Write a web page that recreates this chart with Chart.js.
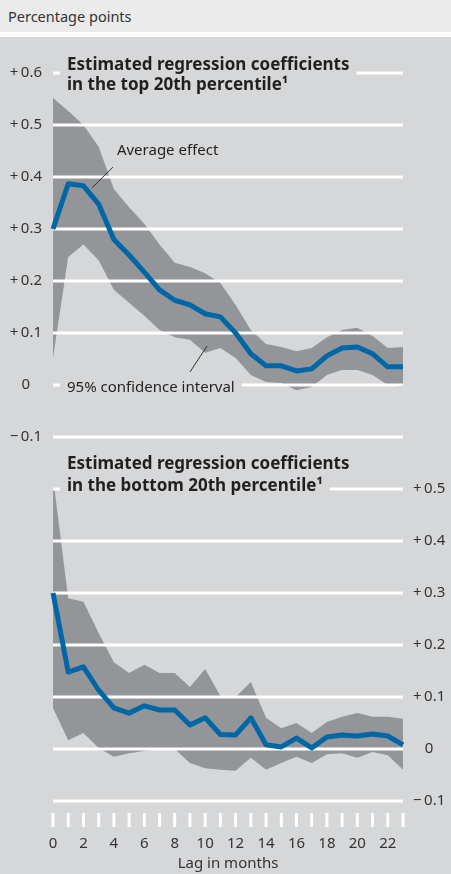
<!DOCTYPE html>
<html>
<head>
<meta charset="utf-8">
<script src="https://cdn.jsdelivr.net/npm/chart.js@4.4.1/dist/chart.umd.min.js"></script>
<style>
  body { margin: 0; width: 451px; height: 874px; overflow: hidden; background: #d6d7d9; font-family: "Noto Sans", sans-serif; position: relative; }
  #strip { position: absolute; left: 0; top: 0; width: 451px; height: 32px; background: #ebebec; color: #333; font-size: 14.5px; line-height: 32px; text-indent: 8px; }
  #gap { position: absolute; left: 0; top: 32px; width: 451px; height: 5px; background: #fff; }
  #topWrap { position: absolute; left: 0; top: 37px; }
  #botWrap { position: absolute; left: 0; top: 450px; }
</style>
</head>
<body>
<div id="strip">Percentage points</div>
<div id="gap"></div>
<div id="topWrap"><canvas id="chart-top" width="451" height="413"></canvas></div>
<div id="botWrap"><canvas id="chart-bottom" width="451" height="424"></canvas></div>
<script>
var lags = [0,1,2,3,4,5,6,7,8,9,10,11,12,13,14,15,16,17,18,19,20,21,22,23];

// top 20th percentile
var topAvg   = [0.30,0.387,0.383,0.348,0.28,0.25,0.217,0.183,0.163,0.154,0.137,0.131,0.10,0.06,0.037,0.037,0.027,0.031,0.056,0.071,0.073,0.06,0.035,0.035];
var topUpper = [0.552,0.527,0.50,0.458,0.377,0.342,0.31,0.27,0.235,0.227,0.215,0.196,0.154,0.106,0.079,0.073,0.065,0.071,0.092,0.106,0.11,0.094,0.071,0.073];
var topLower = [0.052,0.246,0.27,0.24,0.183,0.158,0.133,0.106,0.092,0.087,0.062,0.071,0.052,0.019,0.006,0.004,-0.01,-0.004,0.019,0.029,0.029,0.019,0.0,-0.004];

// bottom 20th percentile
var botAvg   = [0.30,0.148,0.158,0.113,0.079,0.069,0.083,0.075,0.075,0.046,0.06,0.028,0.027,0.06,0.008,0.004,0.021,0.002,0.023,0.027,0.025,0.029,0.025,0.008];
var botUpper = [0.523,0.29,0.283,0.223,0.167,0.146,0.162,0.146,0.146,0.119,0.154,0.102,0.10,0.129,0.06,0.04,0.05,0.031,0.052,0.062,0.069,0.062,0.062,0.058];
var botLower = [0.079,0.017,0.031,0.002,-0.015,-0.008,-0.004,0.0,0.0,-0.027,-0.037,-0.04,-0.042,-0.017,-0.04,-0.027,-0.015,-0.027,-0.01,-0.008,-0.017,-0.006,-0.012,-0.04];

var topTicks = [-0.1,0,0.1,0.2,0.3,0.4,0.5,0.6];
var botTicks = [-0.1,0,0.1,0.2,0.3,0.4,0.5];

var BLUE = '#0067a6';
var BAND = '#939598';
var PANEL = '#d6d7d9';
var TEXT = '#231f20';

function fmt(v) {
  v = Math.round(v * 10) / 10;
  if (v === 0) return '0';
  return (v > 0 ? '+\u2009' : '\u2212\u2009') + Math.abs(v).toFixed(1);
}

// texts placed in data units: [lag, value]
function labelText(ctx, chart, t) {
  var xs = chart.scales.x, ys = chart.scales.y;
  ctx.font = t.font;
  var x = xs.getPixelForValue(t.at[0]);
  var y = ys.getPixelForValue(t.at[1]);
  var w = ctx.measureText(t.text).width;
  if (t.mask) {
    ctx.fillStyle = PANEL;
    ctx.fillRect(x - 7, y - t.mask, w + 14, t.mask + 6);
  }
  ctx.fillStyle = TEXT;
  ctx.fillText(t.text, x, y);
}

var overlay = {
  id: 'overlay',
  beforeDatasetDraw: function (chart, args, opts) {
    if (args.index !== 0) return;
    var ctx = chart.ctx, a = chart.chartArea, ys = chart.scales.y, xs = chart.scales.x;
    ctx.save();
    // white grid above the band
    ctx.strokeStyle = '#fff';
    ctx.lineWidth = 3;
    opts.ticks.forEach(function (v) {
      var y = ys.getPixelForValue(v);
      ctx.beginPath();
      ctx.moveTo(a.left, y);
      ctx.lineTo(a.right, y);
      ctx.stroke();
    });
    ctx.textBaseline = 'alphabetic';
    ctx.textAlign = 'left';
    opts.texts.forEach(function (t) { labelText(ctx, chart, t); });
    // leader lines
    ctx.strokeStyle = '#333';
    ctx.lineWidth = 1;
    (opts.leaders || []).forEach(function (l) {
      ctx.beginPath();
      ctx.moveTo(xs.getPixelForValue(l[0]), ys.getPixelForValue(l[1]));
      ctx.lineTo(xs.getPixelForValue(l[2]), ys.getPixelForValue(l[3]));
      ctx.stroke();
    });
    // x tick marks (bottom panel)
    if (opts.xMarks) {
      ctx.strokeStyle = '#fff';
      ctx.lineWidth = 3;
      lags.forEach(function (l, i) {
        var x = xs.getPixelForValue(i);
        ctx.beginPath();
        ctx.moveTo(x, a.bottom + 12);
        ctx.lineTo(x, a.bottom + 26);
        ctx.stroke();
      });
    }
    ctx.restore();
  }
};

function datasets(avg, upper, lower) {
  return [
    { data: avg, borderColor: BLUE, borderWidth: 5, pointRadius: 0, fill: false, tension: 0, borderJoinStyle: 'round' },
    { data: upper, borderWidth: 0, pointRadius: 0, fill: '+1', backgroundColor: BAND, clip: false },
    { data: lower, borderWidth: 0, pointRadius: 0, fill: false, clip: false }
  ];
}

// fixed axis width, and no label overhang pushing the plot area around
function fitAxis(width) {
  return function (s) {
    s.width = width;
    s.paddingTop = 0;
    s.paddingBottom = 0;
  };
}

var TITLE_FONT = 'bold 17px "Noto Sans"';
var NOTE_FONT = '15px "Noto Sans"';

new Chart(document.getElementById('chart-top').getContext('2d'), {
  type: 'line',
  data: { labels: lags, datasets: datasets(topAvg, topUpper, topLower) },
  plugins: [overlay],
  options: {
    responsive: false,
    devicePixelRatio: 1,
    animation: false,
    events: [],
    layout: { autoPadding: false, padding: { top: 36, bottom: 13, left: 0, right: 48 } },
    plugins: {
      legend: { display: false },
      tooltip: { enabled: false },
      overlay: {
        ticks: topTicks,
        texts: [
          { text: 'Estimated regression coefficients', at: [0.92, 0.606], font: TITLE_FONT, mask: 16 },
          { text: 'in the top 20th percentile\u00b9', at: [0.92, 0.567], font: TITLE_FONT, mask: 0 },
          { text: 'Average effect', at: [4.2, 0.442], font: NOTE_FONT },
          { text: '95% confidence interval', at: [0.92, -0.013], font: NOTE_FONT, mask: 14 }
        ],
        leaders: [[3.94, 0.419, 2.56, 0.379], [10.12, 0.075, 9.0, 0.025]]
      }
    },
    scales: {
      x: { type: 'category', offset: false, display: false },
      y: {
        position: 'left',
        min: -0.1, max: 0.6,
        afterFit: fitAxis(53),
        afterBuildTicks: function (s) { s.ticks = topTicks.map(function (v) { return { value: v }; }); },
        grid: { display: false, drawTicks: false },
        border: { display: false },
        ticks: { callback: fmt, crossAlign: 'center', padding: 11, color: '#333', font: { family: 'Noto Sans', size: 15 } }
      }
    }
  }
});

new Chart(document.getElementById('chart-bottom').getContext('2d'), {
  type: 'line',
  data: { labels: lags, datasets: datasets(botAvg, botUpper, botLower) },
  plugins: [overlay],
  options: {
    responsive: false,
    devicePixelRatio: 1,
    animation: false,
    events: [],
    layout: { autoPadding: false, padding: { top: 39, bottom: 0, left: 53, right: 0 } },
    plugins: {
      legend: { display: false },
      tooltip: { enabled: false },
      overlay: {
        ticks: botTicks,
        xMarks: true,
        texts: [
          { text: 'Estimated regression coefficients', at: [0.92, 0.538], font: TITLE_FONT },
          { text: 'in the bottom 20th percentile\u00b9', at: [0.92, 0.496], font: TITLE_FONT, mask: 16 }
        ]
      }
    },
    scales: {
      x: {
        type: 'category', offset: false,
        afterFit: function (s) { s.height = 73; },
        grid: { display: false, drawTicks: false },
        border: { display: false },
        ticks: {
          autoSkip: false, maxRotation: 0, padding: 34, color: '#333',
          font: { family: 'Noto Sans', size: 15 },
          callback: function (v, i) { return i % 2 === 0 ? String(lags[i]) : ''; }
        },
        title: { display: true, text: 'Lag in months', color: '#333', font: { family: 'Noto Sans', size: 15 }, padding: { top: 0, bottom: 1 } }
      },
      y: {
        position: 'right',
        min: -0.1, max: 0.5,
        afterFit: fitAxis(48),
        afterBuildTicks: function (s) { s.ticks = botTicks.map(function (v) { return { value: v }; }); },
        grid: { display: false, drawTicks: false },
        border: { display: false },
        ticks: { callback: fmt, crossAlign: 'center', padding: 10, color: '#333', font: { family: 'Noto Sans', size: 15 } }
      }
    }
  }
});
</script>
</body>
</html>
